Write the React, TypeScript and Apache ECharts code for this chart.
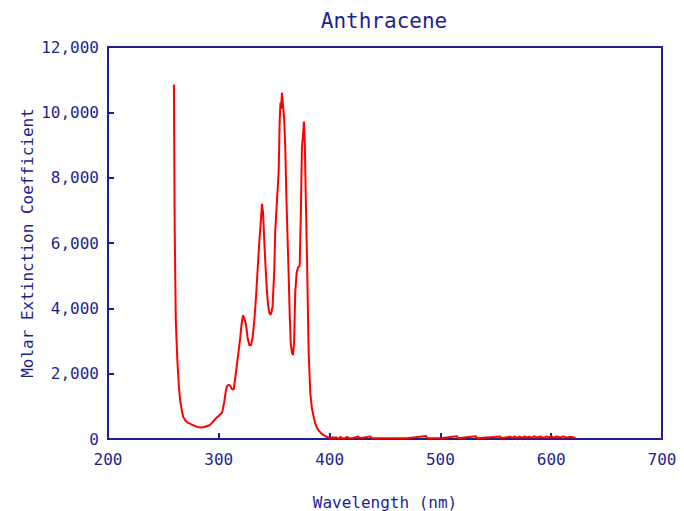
import React, { useEffect, useRef } from "react";
import * as echarts from "echarts";

const wavelength = [
  259.5, 260.2, 261.2, 262.7, 264.0, 265.1, 266.5, 267.8, 270, 272, 274, 277, 280, 283, 286, 289, 292, 295, 297, 299,
  301, 303, 305, 306.5, 307.5, 309, 310.5, 312, 313.5, 315, 317, 319, 320.5, 321.8, 323, 324.5, 326, 327.5, 329, 330.5,
  332, 333.5, 335, 336.5, 338, 339, 340, 341, 342, 343.3, 344.5, 345.5, 346.5, 347.5, 348.5, 350, 351, 352.5, 354, 355,
  355.7, 356.2, 357, 358, 359, 360, 361, 362, 363, 364, 365, 366, 367, 368, 369, 370.3, 371.5, 373, 374, 375,
  376, 376.8, 377.6, 378.5, 379.7, 380.5, 381.1, 382, 382.6, 384, 385.6, 387, 388.7, 390.5, 392.5, 394.7, 397,
  400, 402, 403, 404, 406, 407, 409, 410, 411, 414, 416, 417, 420, 426, 427, 437, 438, 450, 470, 487, 488, 500,
  515, 516, 532, 533, 554, 555, 563, 565, 567, 569, 571, 574, 576, 578, 580, 582, 585, 587, 590, 593, 596, 598,
  600, 602, 605, 608, 611, 614, 617, 620, 622,
];

const extinction = [
  10850, 6400, 3600, 2330, 1600, 1190, 900, 680, 560, 500, 470, 420, 380, 350, 360, 390, 430, 540, 620, 680,
  740, 800, 1150, 1500, 1620, 1660, 1620, 1520, 1520, 1900, 2450, 3000, 3500, 3780, 3700, 3520, 3100, 2880, 2870, 3100,
  3600, 4300, 5150, 6000, 6700, 7200, 6900, 6100, 5400, 4600, 4100, 3880, 3800, 3880, 4050, 5100, 6400, 7300, 8150, 9800,
  10300, 10100, 10600, 10200, 9800, 8900, 7400, 6200, 5100, 3800, 2900, 2650, 2570, 3000, 4500, 5100, 5250, 5300, 6800, 8900,
  9300, 9720, 9100, 7400, 5400, 3800, 2650, 1900, 1400, 950, 680, 480, 330, 250, 170, 120, 70,
  40, 20, 70, 20, 60, 20, 25, 70, 20, 25, 70, 20, 20, 80, 20, 80, 20, 20, 25, 90, 25, 20,
  85, 25, 85, 25, 80, 25, 70, 30, 85, 30, 75, 35, 80, 40, 70, 35, 85, 40, 75, 35, 80, 45,
  90, 40, 75, 45, 80, 40, 70, 45, 30,
];

const xTicks = [200, 300, 400, 500, 600, 700];
const yTicks = [0, 2000, 4000, 6000, 8000, 10000, 12000];

const NAVY = "#1f1f8f";
const FONT = "DejaVu Sans Mono";

export default function App() {
  const ref = useRef<HTMLDivElement>(null);
  useEffect(() => {
    if (!ref.current) return;
    const chart = echarts.init(ref.current, undefined, { renderer: "svg" });
    const data = wavelength.map((w, i) => [w, extinction[i]]);
    chart.setOption({
      animation: false,
      backgroundColor: "#ffffff",
      title: {
        text: "Anthracene",
        left: 379,
        textAlign: "center",
        top: 5,
        textStyle: { color: NAVY, fontFamily: FONT, fontSize: 21, fontWeight: "normal" },
      },
      grid: {
        left: 108,
        right: 22,
        top: 47,
        bottom: 72,
        outerBoundsMode: "none",
        containLabel: false,
        show: true,
        borderColor: NAVY,
        borderWidth: 2,
        backgroundColor: "transparent",
      },
      xAxis: {
        type: "value",
        min: xTicks[0],
        max: xTicks[xTicks.length - 1],
        interval: 100,
        name: "Wavelength (nm)",
        nameLocation: "middle",
        nameGap: 55,
        nameMoveOverlap: false,
        nameTextStyle: { color: NAVY, fontFamily: FONT, fontSize: 16 },
        axisLine: { show: true, lineStyle: { color: NAVY, width: 2 } },
        axisTick: { show: true, inside: true, length: 6, lineStyle: { color: NAVY, width: 2 } },
        axisLabel: { color: NAVY, fontFamily: FONT, fontSize: 16, margin: 12 },
        splitLine: { show: false },
      },
      yAxis: {
        type: "value",
        min: yTicks[0],
        max: yTicks[yTicks.length - 1],
        interval: 2000,
        name: "Molar Extinction Coefficient",
        nameLocation: "middle",
        nameGap: 73,
        nameMoveOverlap: false,
        nameTextStyle: { color: NAVY, fontFamily: FONT, fontSize: 16 },
        axisLine: { show: true, lineStyle: { color: NAVY, width: 2 } },
        axisTick: { show: true, inside: true, length: 6, lineStyle: { color: NAVY, width: 2 } },
        axisLabel: {
          color: NAVY,
          fontFamily: FONT,
          fontSize: 16,
          margin: 9,
          formatter: (v: number) => v.toLocaleString("en-US"),
        },
        splitLine: { show: false },
      },
      series: [
        {
          type: "line",
          data,
          showSymbol: false,
          symbol: "none",
          lineStyle: { color: "#ff0000", width: 2 },
          clip: true,
        },
      ],
    });
    return () => chart.dispose();
  }, []);
  return <div ref={ref} style={{ width: 684, height: 511, position: "absolute", left: 0, top: 0 }} />;
}
